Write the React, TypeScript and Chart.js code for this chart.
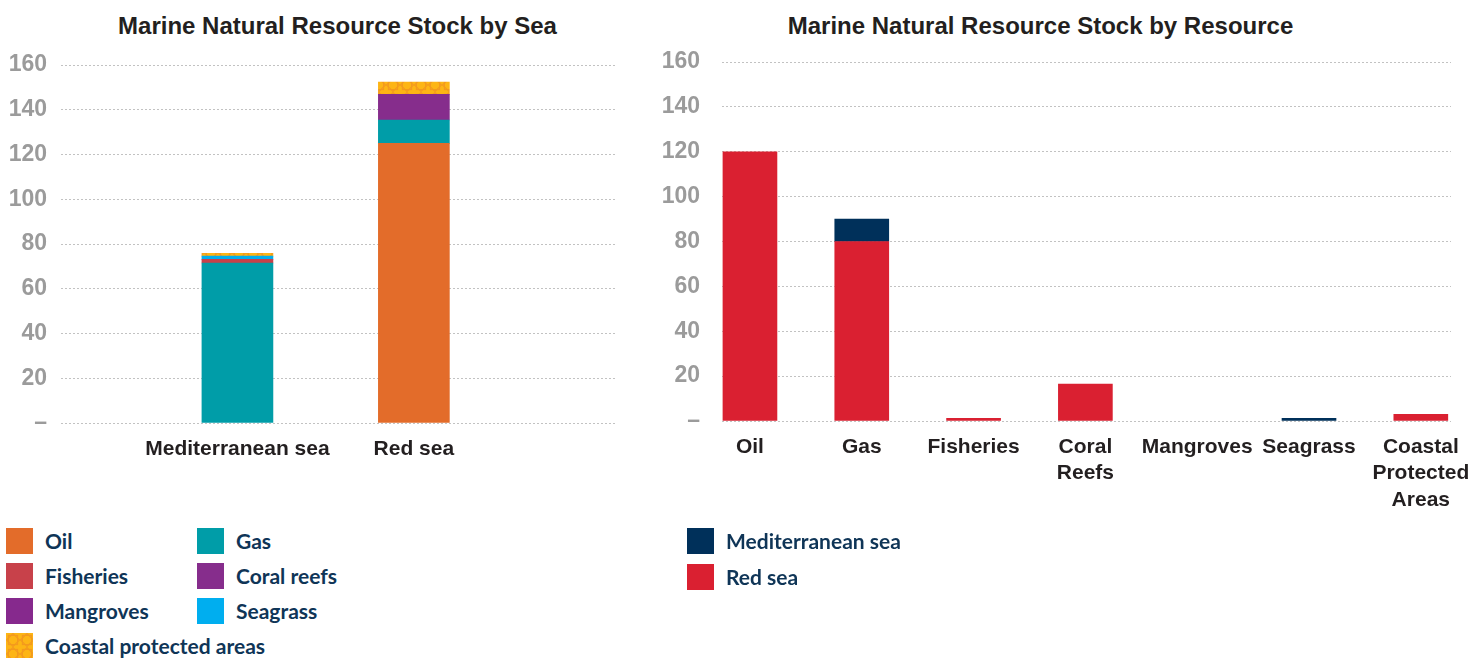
import React, { useEffect, useRef } from 'react';
import { Chart, registerables } from 'chart.js';

Chart.register(...registerables);

// ---------- data ----------
const leftTitle = 'Marine Natural Resource Stock by Sea';
const rightTitle = 'Marine Natural Resource Stock by Resource';

const seaCategories = ['Mediterranean sea', 'Red sea'];
const resourceSeriesNames = ['Oil', 'Gas', 'Fisheries', 'Coral reefs', 'Mangroves', 'Seagrass', 'Coastal protected areas'];
const oilBySea = [0, 125];
const gasBySea = [71.5, 10.4];
const fisheriesBySea = [1.6, 0];
const coralReefsBySea = [0, 11.5];
const mangrovesBySea = [0, 0];
const seagrassBySea = [1.5, 0];
const coastalBySea = [1.2, 5.5];

const resourceCategories: (string | string[])[] = ['Oil', 'Gas', 'Fisheries', ['Coral', 'Reefs'], 'Mangroves', 'Seagrass', ['Coastal', 'Protected', 'Areas']];
const seaSeriesNames = ['Mediterranean sea', 'Red sea'];
const mediterraneanByResource = [0, 10, 0, 0, 0, 1.2, 0];
const redSeaByResource = [120, 80, 1.2, 16.5, 0, 0, 3];

const yTickValues = [0, 20, 40, 60, 80, 100, 120, 140, 160];

// ---------- styles ----------
const resourceColors = ['#E36C2A', '#009DA8', '#C8414A', '#862D8C', '#86298D', '#00AEEF', 'PATTERN'];
const seaColors = ['#00305A', '#DA2031'];
const axisFont = "'Liberation Sans', Arial, Helvetica, sans-serif";
const legendFont = "Lato, 'Open Sans', sans-serif";
const legendColor = '#0F3557';

function makeCoastalPattern(): HTMLCanvasElement {
  const c = document.createElement('canvas');
  const s = 14;
  c.width = s;
  c.height = s;
  const g = c.getContext('2d')!;
  g.fillStyle = '#FDB515';
  g.fillRect(0, 0, s, s);
  g.strokeStyle = '#F39A1E';
  g.lineWidth = 1.1;
  const m = s / 2;
  const r = 4.6;
  g.strokeRect(m - r, m - r, 2 * r, 2 * r);
  const d = r * Math.SQRT2;
  g.beginPath();
  g.moveTo(m - d, m);
  g.lineTo(m, m - d);
  g.lineTo(m + d, m);
  g.lineTo(m, m + d);
  g.closePath();
  g.stroke();
  return c;
}

let patternCanvas: HTMLCanvasElement | null = null;
function getPatternCanvas() {
  if (!patternCanvas) patternCanvas = makeCoastalPattern();
  return patternCanvas;
}

const nz = (v: number) => (v === 0 ? null : v);

function yAxis(padding: number, width: number) {
  return {
    type: 'linear' as const,
    stacked: true,
    min: 0,
    max: 160,
    afterBuildTicks: (axis: any) => {
      axis.ticks = yTickValues.map((v) => ({ value: v }));
    },
    afterFit: (s: any) => {
      s.width = width;
      s.paddingTop = 0;
      s.paddingBottom = 0;
    },
    ticks: {
      color: '#9B9B9B',
      padding,
      font: { family: axisFont, size: 23, weight: 'bold' as const },
      callback: (v: any) => (Number(v) === 0 ? '–' : String(v)),
    },
    grid: { color: '#C2C2C2', lineWidth: 1, drawTicks: false },
    border: { display: false, dash: [2, 2] },
  };
}

function xAxis(min: number, max: number, height: number, labelAt: (n: number) => string | string[]) {
  return {
    type: 'linear' as const,
    stacked: true,
    offset: false,
    min,
    max,
    afterFit: (s: any) => {
      s.height = height;
      s.paddingLeft = 0;
      s.paddingRight = 0;
    },
    ticks: {
      stepSize: 1,
      includeBounds: false,
      autoSkip: false,
      maxRotation: 0,
      minRotation: 0,
      padding: 13,
      color: '#231F20',
      font: { family: axisFont, size: 21, weight: 'bold' as const, lineHeight: 1.26 },
      callback: (v: any) => {
        const n = Number(v);
        return Number.isInteger(n) ? labelAt(n) : '';
      },
    },
    grid: { display: false, drawTicks: false, offset: false },
    border: { display: false },
  };
}

function leftConfig(): any {
  const series = [oilBySea, gasBySea, fisheriesBySea, coralReefsBySea, mangrovesBySea, seagrassBySea, coastalBySea];
  const ctx = document.createElement('canvas').getContext('2d')!;
  const pattern = ctx.createPattern(getPatternCanvas(), 'repeat');
  return {
    type: 'bar',
    data: {
      datasets: series.map((vals, si) => ({
        label: resourceSeriesNames[si],
        data: vals.map((v, i) => ({ x: i + 1, y: nz(v) })),
        backgroundColor: resourceColors[si] === 'PATTERN' ? pattern : resourceColors[si],
        borderWidth: 0,
        barThickness: 71,
      })),
    },
    options: {
      animation: false,
      responsive: false,
      layout: { padding: { left: 0, right: 15, top: 29, bottom: 18 } },
      plugins: { legend: { display: false }, title: { display: false }, tooltip: { enabled: false } },
      scales: {
        x: xAxis(0, 3.14, 45, (n) => seaCategories[n - 1] ?? ''),
        y: yAxis(14, 53),
      },
    },
  };
}

function rightConfig(): any {
  const series = [redSeaByResource, mediterraneanByResource];
  const colors = [seaColors[1], seaColors[0]];
  const names = [seaSeriesNames[1], seaSeriesNames[0]];
  return {
    type: 'bar',
    data: {
      datasets: series.map((vals, si) => ({
        label: names[si],
        data: vals.map((v, i) => ({ x: i, y: nz(v) })),
        backgroundColor: colors[si],
        borderWidth: 0,
        barThickness: 54,
      })),
    },
    options: {
      animation: false,
      responsive: false,
      layout: { padding: { left: 12, right: 20, top: 26, bottom: 15 } },
      plugins: { legend: { display: false }, title: { display: false }, tooltip: { enabled: false } },
      scales: {
        x: xAxis(-0.25, 6.27, 100, (n) => resourceCategories[n] ?? ''),
        y: yAxis(22, 60),
      },
    },
  };
}

function ChartCanvas(props: { make: () => any; left: number; top: number; width: number; height: number }) {
  const ref = useRef<HTMLCanvasElement>(null);
  useEffect(() => {
    const chart = new Chart(ref.current!, props.make());
    return () => chart.destroy();
  }, []);
  return (
    <canvas
      ref={ref}
      width={props.width}
      height={props.height}
      style={{ position: 'absolute', left: props.left, top: props.top, width: props.width, height: props.height }}
    />
  );
}

function Swatch(props: { color: string }) {
  const style: React.CSSProperties = { width: 27, height: 26, flex: '0 0 auto' };
  if (props.color === 'PATTERN') {
    style.backgroundImage = `url(${getPatternCanvas().toDataURL()})`;
    style.backgroundColor = '#FDB515';
  } else {
    style.backgroundColor = props.color;
  }
  return <div style={style} />;
}

function LegendItem(props: { color: string; label: string; left: number; top: number }) {
  return (
    <div style={{ position: 'absolute', left: props.left, top: props.top, display: 'flex', alignItems: 'center', height: 26 }}>
      <Swatch color={props.color} />
      <span
        style={{
          marginLeft: 12,
          fontFamily: legendFont,
          fontWeight: 700,
          fontSize: 21,
          color: legendColor,
          whiteSpace: 'nowrap',
          lineHeight: '26px',
        }}
      >
        {props.label}
      </span>
    </div>
  );
}

function Title(props: { text: string; center: number }) {
  return (
    <div
      style={{
        position: 'absolute',
        left: props.center,
        top: 14,
        transform: 'translateX(-50%)',
        whiteSpace: 'nowrap',
        fontFamily: axisFont,
        fontWeight: 700,
        fontSize: 24,
        lineHeight: '24px',
        color: '#231F20',
      }}
    >
      {props.text}
    </div>
  );
}

export default function App() {
  const leftLegendPos = [
    [6, 528],
    [197, 528],
    [6, 563],
    [197, 563],
    [6, 598],
    [197, 598],
    [6, 633],
  ];
  return (
    <div style={{ position: 'fixed', left: 0, top: 0, width: 1471, height: 658, overflow: 'hidden', background: '#fff' }}>
      <Title text={leftTitle} center={337.5} />
      <Title text={rightTitle} center={1040.5} />
      <ChartCanvas make={leftConfig} left={8} top={36} width={622} height={450} />
      <ChartCanvas make={rightConfig} left={650} top={36} width={821} height={500} />
      {resourceSeriesNames.map((name, i) => (
        <LegendItem key={name} color={resourceColors[i]} label={name} left={leftLegendPos[i][0]} top={leftLegendPos[i][1]} />
      ))}
      {seaSeriesNames.map((name, i) => (
        <LegendItem key={name} color={seaColors[i]} label={name} left={687} top={528 + i * 35.5} />
      ))}
    </div>
  );
}
